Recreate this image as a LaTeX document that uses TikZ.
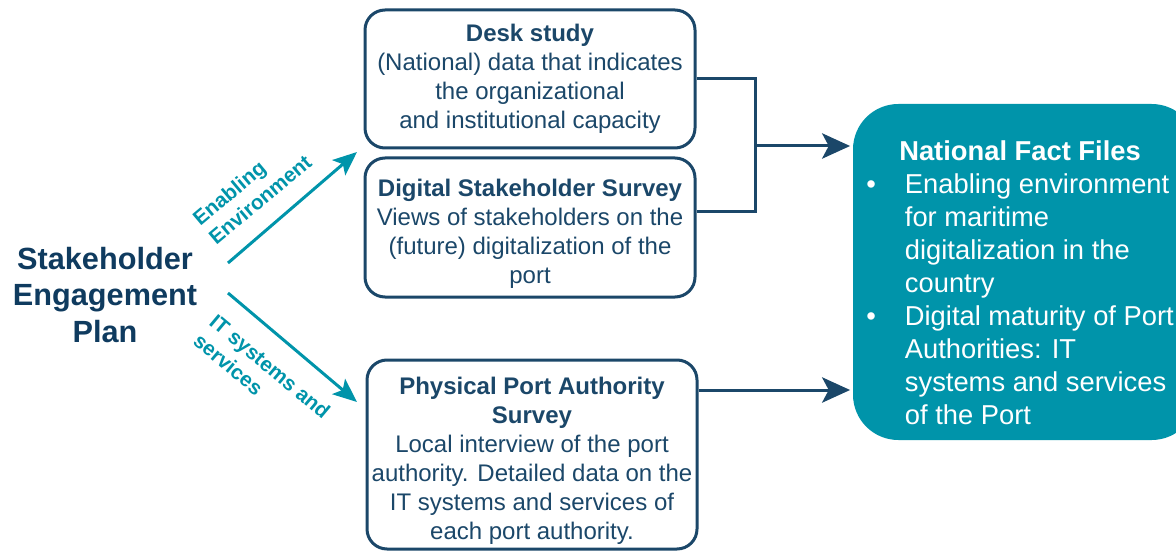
\documentclass[tikz,border=0pt]{standalone}
\usepackage{fontspec}
\setmainfont{Liberation Sans}
\usetikzlibrary{arrows.meta, positioning}
\definecolor{navy}{HTML}{1B4769}
\definecolor{planblue}{HTML}{0F3B5F}
\definecolor{factteal}{HTML}{0094AA}
\newcommand{\toppad}{\rule{0pt}{22pt}}
\tikzset{
  surveybox/.style={draw=navy, line width=2.25pt, rounded corners=15pt, fill=white,
    align=center, text=navy, minimum width=247.5pt, inner sep=0pt,
    font=\fontsize{18}{21.75}\selectfont},
  navyline/.style={draw=navy, line width=2.25pt},
  navyarrow/.style={navyline, -{Stealth[length=21pt,width=19pt,inset=5pt]}, shorten >=2pt},
  tealarrow/.style={draw=factteal, line width=2.25pt, -{Stealth[length=18pt,width=15pt,inset=4pt]}},
  armlabel/.style={text=factteal, align=left, inner sep=0pt,
    font=\fontsize{15.5}{18.75}\selectfont\bfseries}
}
\begin{document}
\begin{tikzpicture}[x=0.75pt, y=-0.75pt]
    \useasboundingbox (0,0) rectangle (1176,552);
    \clip (0,0) rectangle (1176,552);
    % plan
    \node (plan) [text=planblue, align=center, font=\fontsize{23}{27.5}\selectfont\bfseries] at (105,295) {Stakeholder\\Engagement\\Plan};
    % surveys
    \node (desk) [surveybox, minimum height=103.5pt] at (530,79) {\textbf{Desk study}\\(National) data that indicates\\the organizational\\and institutional capacity};
    \node (digital) [surveybox, minimum height=104.25pt] at (530,227.5) {\toppad\textbf{Digital Stakeholder Survey}\\Views of stakeholders on the\\(future) digitalization of the\\port};
    \node (physical) [surveybox, minimum height=141.75pt] at (532,454.5) {\toppad\textbf{Physical Port Authority}\\\textbf{Survey}\\Local interview of the port\\authority. Detailed data on the\\IT systems and services of\\each port authority.};
    % fact files
    \node (facts) [fill=factteal, rounded corners=34pt, minimum width=258pt, minimum height=252pt, inner sep=0pt] at (1025,272) {};
    \node (factstext) [anchor=north west, inner sep=0pt, text=white, font=\fontsize{20.5}{24.75}\selectfont] at (866,137) {%
      \begin{tabular}{@{}p{29pt}@{}l@{}}
        \multicolumn{2}{@{}c@{}}{\bfseries National Fact Files}\\
        \textbullet & Enabling environment\\
                    & for maritime\\
                    & digitalization in the\\
                    & country\\
        \textbullet & Digital maturity of Port\\
                    & Authorities: IT\\
                    & systems and services\\
                    & of the Port
      \end{tabular}};
    % arms
    \coordinate (upstart) at (228,263);
    \coordinate (upend) at (357,152);
    \coordinate (downstart) at (228,293);
    \coordinate (downend) at (357,402);
    \draw[tealarrow] (upstart) -- (upend);
    \draw[tealarrow] (downstart) -- (downend);
    \node (envlabel) [armlabel, rotate=40] at (252,190) {Enabling\\Environment};
    \node (itlabel) [armlabel, rotate=-40] at (262,376) {IT systems and\\services};
    % connectors
    \coordinate (join) at (755,146);
    \draw[navyline] (desk.east) -| (join);
    \draw[navyline] (digital.east |- 0,212) -| (join);
    \draw[navyarrow] (join) -- (facts.west |- join);
    \draw[navyarrow] (physical.east |- 0,390) -- (facts.west |- 0,390);
\end{tikzpicture}
\end{document}
